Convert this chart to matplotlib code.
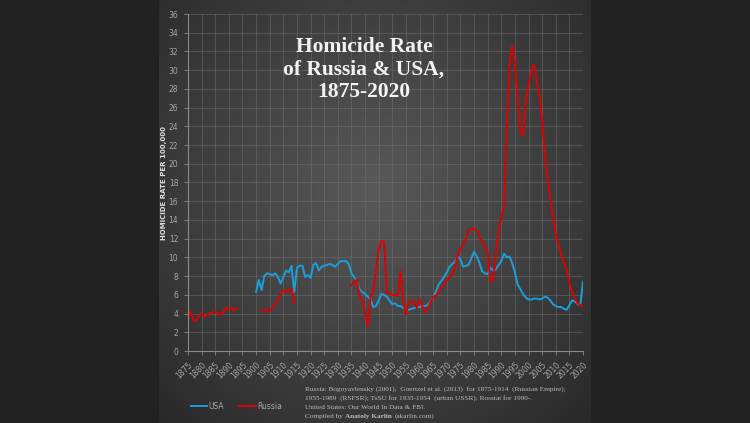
import matplotlib
matplotlib.use('Agg')
import matplotlib.pyplot as plt
import numpy as np

# homicide rate per 100,000
usa_years = list(range(1900, 2021))
usa = [6.3, 7.6, 6.5, 8.0, 8.3, 8.2, 8.1, 8.3, 7.9, 7.2,
       7.9, 8.6, 8.4, 9.1, 6.3, 8.9, 9.1, 9.1, 7.9, 8.1,
       7.8, 9.2, 9.4, 8.6, 9.0, 9.1, 9.2, 9.3, 9.2, 9.0,
       9.3, 9.6, 9.6, 9.6, 9.3, 8.3, 7.9, 7.5, 6.6, 6.3,
       6.1, 5.8, 5.5, 4.7, 4.8, 5.4, 6.1, 6.0, 5.8, 5.4,
       5.0, 5.1, 4.8, 4.8, 4.6, 4.5, 4.4, 4.5, 4.6, 4.7,
       4.7, 4.8, 4.8, 4.9, 5.3, 5.8, 6.3, 7.1, 7.5, 7.9,
       8.4, 9.0, 9.3, 9.5, 10.1, 9.8, 9.0, 9.1, 9.2, 9.9,
       10.6, 10.1, 9.4, 8.5, 8.3, 8.2, 8.9, 8.6, 8.7, 9.2,
       9.6, 10.4, 10.0, 10.1, 9.4, 8.4, 7.1, 6.6, 6.1, 5.7,
       5.5, 5.5, 5.6, 5.6, 5.5, 5.6, 5.8, 5.7, 5.4, 5.0,
       4.8, 4.7, 4.7, 4.5, 4.4, 4.9, 5.4, 5.3, 5.0, 4.9,
       7.4]

# Russian Empire 1875-1893
rus_years_a = list(range(1875, 1894))
rus_a = [3.5, 4.2, 3.3, 3.2, 3.8, 4.0, 3.7, 3.8, 4.0, 4.1,
         4.2, 4.0, 3.9, 4.2, 4.6, 4.4, 4.6, 4.3, 4.6]
# Russian Empire 1902-1914
rus_years_b = list(range(1902, 1915))
rus_b = [4.3, 4.4, 4.3, 4.3, 4.6, 5.0, 5.5, 6.0, 6.5, 6.3, 6.5, 6.7, 5.1]
# urban USSR / RSFSR / Rosstat 1935-2020
rus_years_c = list(range(1935, 2021))
rus_c = [7.0, 7.4, 7.6, 5.8, 5.3, 4.2, 2.6, 5.8, 6.3, 8.5,
         10.8, 11.8, 11.6, 6.2, 6.1, 6.0, 6.0, 5.9, 8.5, 5.5,
         3.9, 5.2, 5.3, 5.3, 4.6, 5.5, 4.8, 4.2, 4.5, 5.2,
         5.8, 5.9, 6.4, 6.8, 7.1, 7.6, 7.9, 8.1, 9.0, 10.2,
         10.9, 11.4, 12.0, 12.9, 13.1, 13.0, 12.9, 12.2, 11.6, 11.1,
         10.5, 7.4, 7.6, 10.2, 12.9, 14.2, 15.5, 23.5, 30.5, 32.6,
         30.8, 27.0, 23.5, 23.0, 26.5, 28.5, 29.8, 30.6, 28.7, 27.4,
         24.5, 21.0, 18.5, 16.2, 14.3, 12.5, 11.3, 10.4, 9.4, 8.7,
         7.4, 6.3, 5.6, 5.1, 4.9, 4.7]

title_lines = ['Homicide Rate', 'of Russia & USA,', '1875-2020']
source_lines = ['Russia: Bogoyavlensky (2001),  Goertzel et al. (2013)  for 1875-1914  (Russian Empire);',
                '1955-1989  (RSFSR); TsSU for 1935-1954  (urban USSR); Rosstat for 1990-.',
                'United States: Our World In Data & FBI.']

usa_color = '#1a9fdb'
rus_color = '#e00000'
src_color = '#bcbcbc'
src_size = 5.2

W, H = 750, 423
fig = plt.figure(figsize=(W / 100, H / 100), dpi=100, facecolor='#222222')

# dark panel with radial gradient
bg = fig.add_axes([159 / W, 0, 432 / W, 1])
bg.axis('off')
gx, gy = np.meshgrid(np.linspace(-1, 1, 300), np.linspace(-1, 1, 300))
r = np.sqrt((gx * 0.9) ** 2 + ((gy + 0.1) * 0.85) ** 2)
shade = 0.35 - 0.19 * np.clip(r, 0, 1.3) / 1.3
bg.imshow(np.dstack([shade] * 3), extent=[0, 1, 0, 1], aspect='auto', origin='upper')

ax = fig.add_axes([188 / W, 1 - 351 / H, 395 / W, 337 / H])
ax.patch.set_alpha(0)

ax.plot(usa_years, usa, color=usa_color, lw=1.4, label='USA', solid_joinstyle='round')
ax.plot(rus_years_a, rus_a, color=rus_color, lw=1.4, label='Russia', solid_joinstyle='round')
ax.plot(rus_years_b, rus_b, color=rus_color, lw=1.4, solid_joinstyle='round')
ax.plot(rus_years_c, rus_c, color=rus_color, lw=1.4, solid_joinstyle='round')

ax.set_xlim(1875, 2020)
ax.set_ylim(0, 36)
ax.set_xticks(range(1875, 2021, 5))
ax.set_yticks(range(0, 37, 2))
ax.grid(True, color='#707070', lw=0.6, alpha=0.6)
ax.set_axisbelow(True)
for s in ['top', 'right']:
    ax.spines[s].set_visible(False)
for s in ['left', 'bottom']:
    ax.spines[s].set_color('#8a8a8a')
    ax.spines[s].set_linewidth(0.8)
ax.tick_params(colors='#8a8a8a', labelcolor='#a8a8a8', labelsize=5.5, length=3, width=0.6)
ax.tick_params(axis='y', pad=4)
plt.setp(ax.get_xticklabels(), rotation=45, ha='right', rotation_mode='anchor')

ax.set_ylabel('HOMICIDE RATE PER 100,000', color='#e0e0e0', fontsize=5, fontweight='bold')
ax.yaxis.set_label_coords(-0.053, 0.5)

for i, line in enumerate(title_lines):
    fig.text(364 / W, 1 - (47 + i * 22.5) / H, line, ha='center', va='center',
             family='Liberation Serif', fontweight='bold', fontsize=15.5, color='#f2f2f2')

# legend below the plot
ax.legend(loc='center left', bbox_to_anchor=(191 / W, 1 - 406 / H),
          bbox_transform=fig.transFigure, ncol=2, frameon=False, fontsize=5.5,
          handlelength=2.1, handletextpad=0.2, columnspacing=2.0,
          labelcolor='#a8a8a8', borderaxespad=0, borderpad=0)

for i, line in enumerate(source_lines):
    fig.text(305 / W, 1 - (389 + i * 9) / H, line, ha='left', va='center',
             family='Liberation Serif', fontsize=src_size, color=src_color)

renderer = fig.canvas.get_renderer()
y4 = 1 - (389 + 3 * 9) / H
t1 = fig.text(305 / W, y4, 'Compiled by', ha='left', va='center',
              family='Liberation Serif', fontsize=src_size, color=src_color)
x1 = (t1.get_window_extent(renderer).x1 + 2.5) / W
t2 = fig.text(x1, y4, 'Anatoly Karlin', ha='left', va='center',
              family='Liberation Serif', fontsize=src_size, fontweight='bold', color=src_color)
x2 = (t2.get_window_extent(renderer).x1 + 2.5) / W
fig.text(x2, y4, '(akarlin.com)', ha='left', va='center',
         family='Liberation Serif', fontsize=src_size, color=src_color)

fig.savefig('out.png', dpi=100, facecolor=fig.get_facecolor())
